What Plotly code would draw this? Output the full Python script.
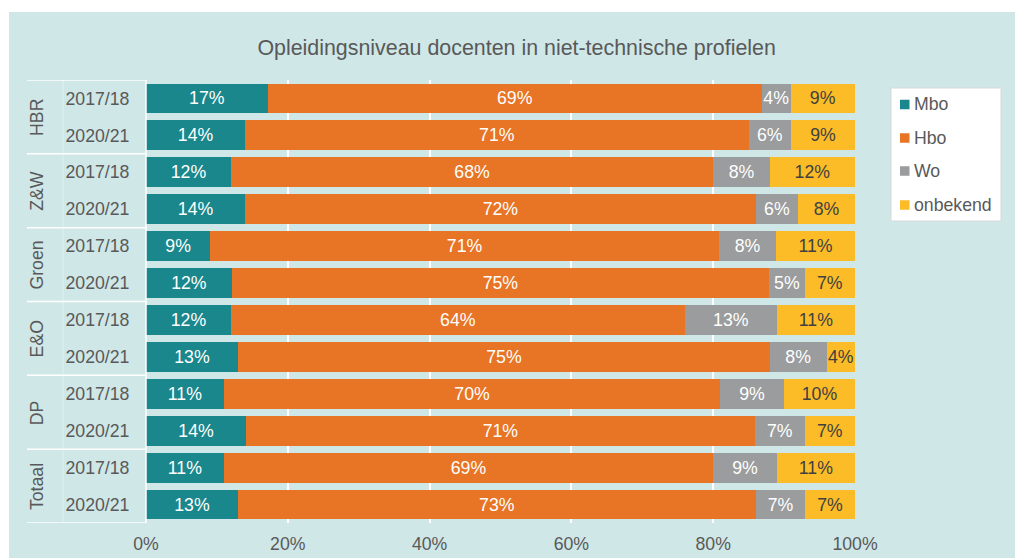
import plotly.graph_objects as go

# Categories
groups = ["HBR", "Z&W", "Groen", "E&O", "DP", "Totaal"]
years = ["2017/18", "2020/21"]

# Share of teachers per education level (percent), one value per group/year row
mbo = [17, 14, 12, 14, 9, 12, 12, 13, 11, 14, 11, 13]
hbo = [69, 71, 68, 72, 71, 75, 64, 75, 70, 71, 69, 73]
wo = [4, 6, 8, 6, 8, 5, 13, 8, 9, 7, 9, 7]
onbekend = [9, 9, 12, 8, 11, 7, 11, 4, 10, 7, 11, 7]

series = [
    ("Mbo", mbo, "#1a878c", "white"),
    ("Hbo", hbo, "#e87425", "white"),
    ("Wo", wo, "#9a9c9d", "white"),
    ("onbekend", onbekend, "#fbbc28", "#404040"),
]

rows = [(g, y) for g in groups for y in years]
pos = list(range(len(rows)))

BG = "#cfe7e7"
FONT = "Liberation Sans, Arial, sans-serif"
GREY = "#595959"
FS = 17.7

W, H = 1015, 558
ML, MR, MT, MB = 146, 160, 80, 35
PW, PH = W - ML - MR, H - MT - MB


def px_x(px):
    """Pixel column -> paper x."""
    return (px - ML) / PW


def px_y(py):
    """Pixel row -> paper y."""
    return (H - MB - py) / PH


fig = go.Figure()
for name, vals, color, tcolor in series:
    fig.add_trace(go.Bar(
        name=name,
        x=vals,
        y=pos,
        orientation="h",
        marker=dict(color=color, line=dict(width=0)),
        text=[f"{v}%" for v in vals],
        textposition="inside",
        insidetextanchor="middle",
        textangle=0,
        insidetextfont=dict(color=tcolor, size=FS, family=FONT),
        showlegend=False,
        hoverinfo="name+x",
    ))

# Group labels on the left, rotated
annotations = []
for i, g in enumerate(groups):
    annotations.append(dict(
        text=g, x=px_x(37), xref="paper", y=2 * i + 0.5, yref="y",
        textangle=-90, showarrow=False, xanchor="center", yanchor="middle",
        font=dict(size=FS, color=GREY, family=FONT),
    ))

# Background panel and category dividers
shapes = [dict(
    type="rect", xref="paper", yref="paper",
    x0=px_x(9), x1=px_x(W + 5), y0=px_y(H + 5), y1=px_y(12),
    fillcolor=BG, line=dict(width=0), layer="below",
)]
for k in range(len(groups) + 1):
    yb = 2 * k - 0.5
    shapes.append(dict(
        type="line", xref="paper", yref="y",
        x0=px_x(27), x1=0, y0=yb, y1=yb,
        line=dict(color="white", width=1.5),
    ))
shapes.append(dict(
    type="line", xref="paper", yref="y", x0=0, x1=0, y0=-0.5, y1=len(rows) - 0.5,
    line=dict(color="white", width=1.5),
))
shapes.append(dict(
    type="line", xref="paper", yref="y", x0=px_x(63), x1=px_x(63), y0=-0.5, y1=len(rows) - 0.5,
    line=dict(color="rgba(255,255,255,0.45)", width=1),
))

# Legend box with colour keys
shapes.append(dict(
    type="rect", xref="paper", yref="paper",
    x0=px_x(891), x1=px_x(1001), y0=px_y(221), y1=px_y(88),
    fillcolor="white", line=dict(color="#d9d9d9", width=1),
))
legend_rows = [104.5, 138, 171, 205]
for (name, _, color, _), cy in zip(series, legend_rows):
    shapes.append(dict(
        type="rect", xref="paper", yref="paper",
        x0=px_x(900), x1=px_x(909.5), y0=px_y(cy + 4.75), y1=px_y(cy - 4.75),
        fillcolor=color, line=dict(width=0),
    ))
    annotations.append(dict(
        text=name, x=px_x(912), xref="paper", y=px_y(cy), yref="paper",
        showarrow=False, xanchor="left", yanchor="middle",
        font=dict(size=FS, color=GREY, family=FONT),
    ))

fig.update_layout(
    width=W, height=H,
    margin=dict(l=ML, r=MR, t=MT, b=MB),
    paper_bgcolor="white",
    plot_bgcolor=BG,
    barmode="stack",
    barnorm="percent",
    bargap=0.19,
    showlegend=False,
    font=dict(family=FONT, color=GREY, size=FS),
    title=dict(
        text="Opleidingsniveau docenten in niet-technische profielen",
        x=0.509, xref="container", xanchor="center",
        y=1 - 48 / H, yref="container", yanchor="middle",
        font=dict(size=21.4, color=GREY, family=FONT),
    ),
    xaxis=dict(
        range=[0, 100], dtick=20, ticksuffix="%",
        showgrid=True, gridcolor="white", gridwidth=1.5,
        zeroline=False, showline=False,
        ticks="outside", ticklen=5, tickcolor="rgba(0,0,0,0)",
        tickfont=dict(size=FS, color=GREY), automargin=False,
    ),
    yaxis=dict(
        range=[len(rows) - 0.5, -0.5],
        tickmode="array", tickvals=pos, ticktext=[y for _, y in rows],
        showgrid=False, zeroline=False, showline=False,
        ticks="outside", ticklen=12, tickcolor="rgba(0,0,0,0)",
        tickfont=dict(size=FS, color=GREY), automargin=False,
    ),
    uniformtext=dict(minsize=FS, mode="show"),
    annotations=annotations,
    shapes=shapes,
)

fig.write_html("out.html")
